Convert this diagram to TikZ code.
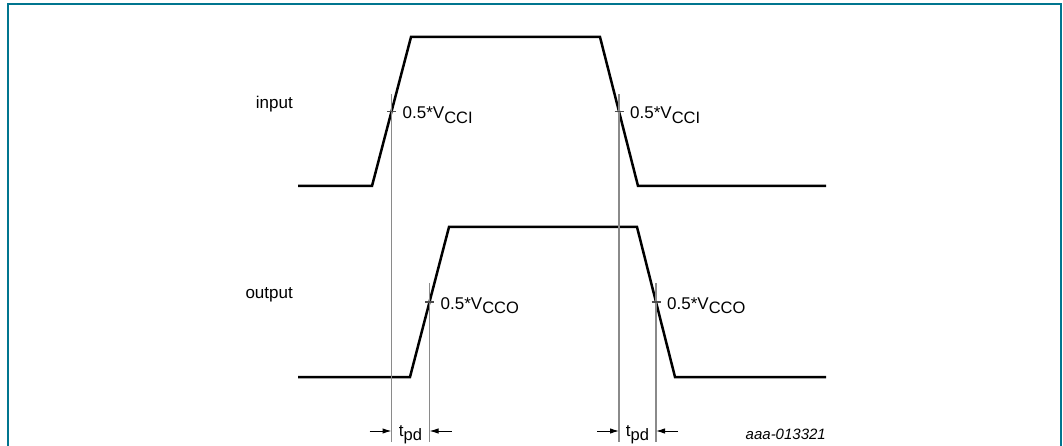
\documentclass[tikz,border=0pt]{standalone}
\usepackage{fontspec}
\setmainfont{Liberation Sans}
\usetikzlibrary{arrows.meta,calc}
\definecolor{frameteal}{HTML}{00758F}
\definecolor{guidegrey}{HTML}{8A8A8A}
\newcommand{\vsub}[1]{\raisebox{-0.45ex}{\fontsize{16.5}{18}\selectfont #1}}

\begin{document}
\begin{tikzpicture}[x=1pt, y=-1pt, font=\fontsize{17}{20}\selectfont,
  wave/.style={line width=2.5pt, line join=miter, black},
  guide/.style={line width=1.1pt, draw=guidegrey},
  tick/.style={line width=1.1pt, draw=black!70},
  dimarr/.style={-{Latex[length=9pt, width=5.5pt]}, line width=1pt},
  lbl/.style={inner sep=0pt},
  frame/.style={line width=2pt, draw=frameteal}]
  \useasboundingbox (0,0) rectangle (1063,446);
  \draw[frame] (7.5,446) |- (1061,4.5) -- (1061,446);
  % signal names
  \node[lbl, anchor=base east] (nin)  at (293,109) {input};
  \node[lbl, anchor=base east] (nout) at (293,299) {output};
  % waveforms
  \draw[wave] (298,186) -- (372,186) -- (411,37) -- (600,37) -- (638,186) -- (826,186);
  \draw[wave] (298,377) -- (410,377) -- (449,227) -- (637,227) -- (675,377) -- (826,377);
  % 50 % crossings
  \coordinate (ir) at (391.5,111.5);
  \coordinate (if) at (619,111.5);
  \coordinate (or) at (429.5,302);
  \coordinate (of) at (656,302);
  \coordinate (foot) at (0,442);
  \coordinate (arr) at (0,431);
  \foreach \p/\h in {ir/17, if/17, or/19, of/19} {
    \draw[guide] ($(\p)+(0,-\h)$) -- (\p |- foot);
    \draw[tick] ($(\p)+(-4.5,0)$) -- ($(\p)+(4.5,0)$);
  }
  \foreach \p/\t in {ir/CCI, if/CCI, or/CCO, of/CCO}
    \node[lbl, anchor=base west] (v\p) at ($(\p)+(11,7.5)$) {0.5*V\vsub{\t}};
  % propagation delays
  \foreach \a/\b in {ir/or, if/of} {
    \coordinate (\a tail) at ($(\a |- arr)+(-22,0)$);
    \coordinate (\b tail) at ($(\b |- arr)+(22,0)$);
    \draw[dimarr] (\a tail) -- (\a |- arr);
    \draw[dimarr] (\b tail) -- (\b |- arr);
    \node[lbl, anchor=base] (t\a) at ($(\a |- arr)!0.5!(\b |- arr)+(0,5)$) {t\vsub{pd}};
  }
  \node[lbl, anchor=base east, font=\itshape\fontsize{15}{18}\selectfont] (code) at (826,439) {aaa-013321};
\end{tikzpicture}
\end{document}
